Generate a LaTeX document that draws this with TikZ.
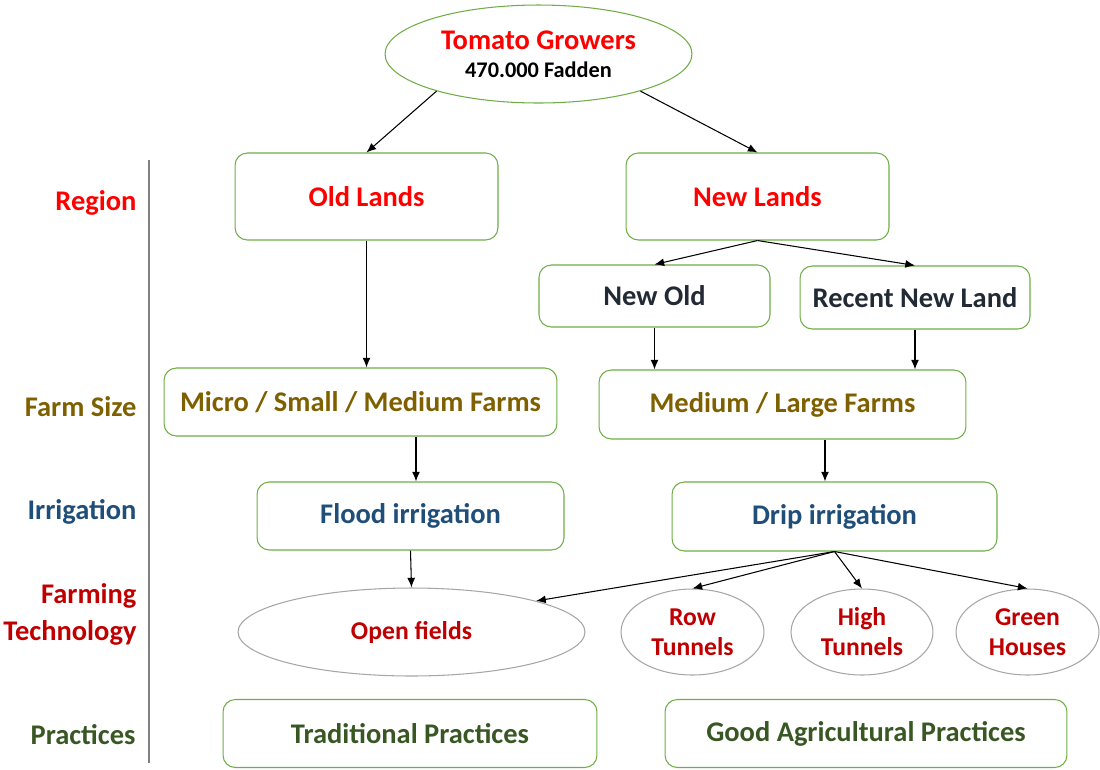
\documentclass[tikz,border=0pt]{standalone}
\usepackage{fontspec}
\setmainfont{Carlito}
\usepackage{xcolor}
\usetikzlibrary{shapes.geometric, arrows.meta}

\definecolor{boxgreen}{RGB}{112,173,71}
\definecolor{ovalgray}{RGB}{166,166,166}
\definecolor{tomred}{RGB}{255,0,0}
\definecolor{darkred}{RGB}{192,0,0}
\definecolor{olive}{RGB}{127,96,0}
\definecolor{navy}{RGB}{31,78,121}
\definecolor{leaf}{RGB}{56,87,35}
\definecolor{slate}{RGB}{34,42,53}

\begin{document}
\begin{tikzpicture}[
            > = {Latex[length=5.5pt, width=4.5pt]}, % arrow head style
            x = 0.02cm, y = -0.02cm, % one unit is one pixel, y runs down
            line width = 0.6pt,
            box/.style = {draw=boxgreen, rounded corners=7pt, inner sep=0pt,
                font=\bfseries\fontsize{16.2}{19}\selectfont},
            oval/.style = {draw=ovalgray, ellipse, inner sep=0pt, align=center,
                font=\bfseries\fontsize{14.6}{17}\selectfont},
            tag/.style = {anchor=east, align=right, inner sep=0pt,
                font=\bfseries\fontsize{16.2}{19}\selectfont}
        ]
\useasboundingbox (0,0) rectangle (1100,769);

% row labels
\node[tag, text=tomred] (lregion) at (137,203) {Region};
\node[tag, text=olive] (lsize) at (137,407) {Farm Size};
\node[tag, text=navy] (lirr) at (137,512) {Irrigation};
\node[tag, text=darkred] (ltech) at (137,614) {Farming\\[2pt]Technology};
\node[tag, text=leaf] (lprac) at (136,735) {Practices};
\draw[line width=1pt, draw=gray] (149,160) -- (149,763);

% tree
\node[draw=boxgreen, ellipse, inner sep=0pt, align=center, minimum width=6.14cm, minimum height=1.96cm] (top) at (538.5,54)
    {{\bfseries\fontsize{16.2}{19}\selectfont\color{tomred}Tomato Growers}\\[4pt]{\bfseries\fontsize{12.7}{15}\selectfont 470.000 Fadden}};

\node[box, text=tomred, minimum width=5.26cm, minimum height=1.74cm] (old) at (366.5,196.5) {Old Lands};
\node[box, text=tomred, minimum width=5.26cm, minimum height=1.74cm] (new) at (757.5,196.5) {New Lands};
\node[box, text=slate, minimum width=4.62cm, minimum height=1.24cm] (newold) at (654.5,296) {New Old};
\node[box, text=slate, minimum width=4.6cm, minimum height=1.26cm] (recent) at (915,297.5) {Recent New Land};

\node[box, text=olive, minimum width=7.86cm, minimum height=1.36cm] (small) at (360.5,402) {Micro / Small / Medium Farms};
\node[box, text=olive, minimum width=7.34cm, minimum height=1.38cm] (large) at (782.5,404.5) {Medium / Large Farms};

\node[box, text=navy, minimum width=6.14cm, minimum height=1.36cm] (flood) at (410.5,516) {Flood irrigation};
\node[box, text=navy, minimum width=6.5cm, minimum height=1.38cm] (drip) at (834.5,516.5) {Drip irrigation};

\node[oval, text=darkred, minimum width=6.94cm, minimum height=1.76cm] (open) at (411.5,632) {Open fields};
\node[oval, text=darkred, minimum width=2.86cm, minimum height=1.72cm] (row) at (692.5,632) {Row\\Tunnels};
\node[oval, text=darkred, minimum width=2.84cm, minimum height=1.72cm] (high) at (862,632) {High\\Tunnels};
\node[oval, text=darkred, minimum width=2.86cm, minimum height=1.72cm] (green) at (1027.5,632) {Green\\Houses};

\node[box, text=leaf, minimum width=7.48cm, minimum height=1.36cm] (trad) at (410,733.5) {Traditional Practices};
\node[box, text=leaf, minimum width=8.04cm, minimum height=1.36cm] (gap) at (866,733.5) {Good Agricultural Practices};

\draw[->] (top.200) -- (old.north);
\draw[->] (top.340) -- (new.north);
\draw[->] (old.south) -- (old.south |- small.north);
\draw[->] (new.south) -- (newold.north);
\draw[->] (new.south) -- (recent.north);
\draw[->] (newold.south) -- (newold.south |- large.north);
\draw[->] (recent.south) -- (recent.south |- large.north);
\draw[->] ([xshift=0.11cm]flood.north |- small.south) -- ([xshift=0.11cm]flood.north);
\draw[->] ([xshift=-0.19cm]drip.north |- large.south) -- ([xshift=-0.19cm]drip.north);
\draw[->] (flood.south) -- (open.north);
\draw[->] (drip.south) -- (open.14);
\draw[->] (drip.south) -- (row.north);
\draw[->] (drip.south) -- (high.north);
\draw[->] (drip.south) -- (green.north);
\end{tikzpicture}
\end{document}
